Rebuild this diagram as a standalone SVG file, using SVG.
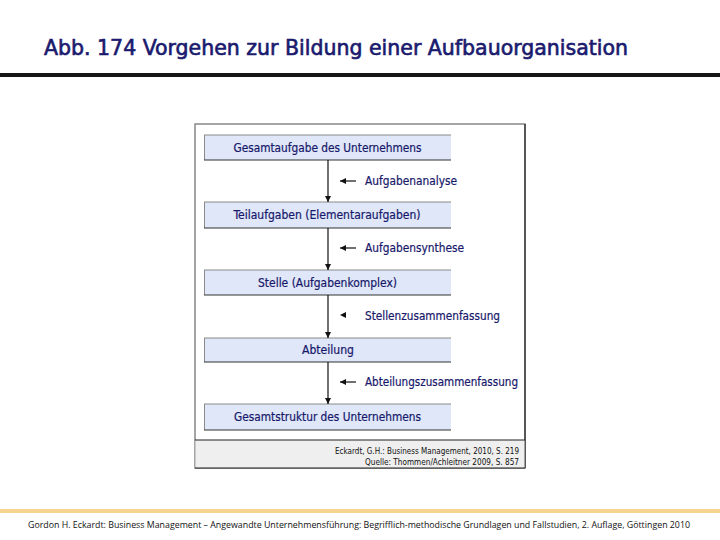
<svg xmlns="http://www.w3.org/2000/svg" width="720" height="540" viewBox="0 0 720 540">
<defs>
<style>
.box{fill:#dfe7f8;}
.btop{stroke:#8a8a8a;stroke-width:1;}
.bbot{stroke:#333;stroke-width:1.2;}
.bt{font-family:"DejaVu Sans Condensed","DejaVu Sans",sans-serif;font-size:12px;fill:#17186a;text-anchor:middle;stroke:#17186a;stroke-width:0.2;}
.lt{font-family:"DejaVu Sans Condensed","DejaVu Sans",sans-serif;font-size:12px;fill:#17186a;stroke:#17186a;stroke-width:0.2;}
.conn{stroke:#111;stroke-width:1.2;fill:none;}
.src{font-family:"DejaVu Sans Condensed","DejaVu Sans",sans-serif;font-size:8.5px;fill:#111;text-anchor:end;}
</style>
<marker id="ah" viewBox="0 0 10 10" refX="10" refY="5" markerWidth="6" markerHeight="6" orient="auto" markerUnits="userSpaceOnUse">
<path d="M0,0 L10,5 L0,10 z" fill="#111"/>
</marker>
</defs>
<rect width="720" height="540" fill="#fff"/>
<g id="title">
<text x="44" y="55" font-family="DejaVu Sans Condensed, DejaVu Sans, sans-serif" font-size="21" fill="#1a1a6e" stroke="#1a1a6e" stroke-width="0.6" textLength="584" lengthAdjust="spacingAndGlyphs">Abb. 174 Vorgehen zur Bildung einer Aufbauorganisation</text>
<rect x="0" y="73" width="720" height="4" fill="#161616"/>
</g>
<g id="frame">
<rect x="195" y="124" width="330" height="344" fill="#fff" stroke="#888" stroke-width="1.5"/>
<line x1="525" y1="124" x2="525" y2="468" stroke="#222" stroke-width="1.2"/>
<rect x="195.5" y="440" width="329" height="28" fill="#efefef"/>
<line x1="195" y1="440" x2="525" y2="440" stroke="#222" stroke-width="1"/>
<line x1="195" y1="468" x2="525" y2="468" stroke="#222" stroke-width="1.2"/>
</g>
<g id="n1">
<rect class="box" x="204" y="135" width="247" height="25"/>
<line class="btop" x1="204" y1="135" x2="451" y2="135"/>
<line class="btop" x1="204.5" y1="135" x2="204.5" y2="160"/>
<line class="bbot" x1="204" y1="160" x2="451" y2="160"/>
<text class="bt" x="327.5" y="152" textLength="188" lengthAdjust="spacingAndGlyphs">Gesamtaufgabe des Unternehmens</text>
</g>
<g id="n2">
<rect class="box" x="204" y="202" width="247" height="26"/>
<line class="btop" x1="204" y1="202" x2="451" y2="202"/>
<line class="btop" x1="204.5" y1="202" x2="204.5" y2="228"/>
<line class="bbot" x1="204" y1="228" x2="451" y2="228"/>
<text class="bt" x="327" y="219" textLength="187" lengthAdjust="spacingAndGlyphs">Teilaufgaben (Elementaraufgaben)</text>
</g>
<g id="n3">
<rect class="box" x="204" y="270" width="247" height="25"/>
<line class="btop" x1="204" y1="270" x2="451" y2="270"/>
<line class="btop" x1="204.5" y1="270" x2="204.5" y2="295"/>
<line class="bbot" x1="204" y1="295" x2="451" y2="295"/>
<text class="bt" x="327.5" y="287" textLength="139" lengthAdjust="spacingAndGlyphs">Stelle (Aufgabenkomplex)</text>
</g>
<g id="n4">
<rect class="box" x="204" y="338" width="247" height="24"/>
<line class="btop" x1="204" y1="338" x2="451" y2="338"/>
<line class="btop" x1="204.5" y1="338" x2="204.5" y2="362"/>
<line class="bbot" x1="204" y1="362" x2="451" y2="362"/>
<text class="bt" x="328" y="354" textLength="52" lengthAdjust="spacingAndGlyphs">Abteilung</text>
</g>
<g id="n5">
<rect class="box" x="204" y="404" width="247" height="26"/>
<line class="btop" x1="204" y1="404" x2="451" y2="404"/>
<line class="btop" x1="204.5" y1="404" x2="204.5" y2="430"/>
<line class="bbot" x1="204" y1="430" x2="451" y2="430"/>
<text class="bt" x="327.5" y="421" textLength="187" lengthAdjust="spacingAndGlyphs">Gesamtstruktur des Unternehmens</text>
</g>
<g id="connectors">
<line class="conn" x1="328" y1="160" x2="328" y2="202" marker-end="url(#ah)"/>
<line class="conn" x1="328" y1="228" x2="328" y2="270" marker-end="url(#ah)"/>
<line class="conn" x1="328" y1="295" x2="328" y2="338" marker-end="url(#ah)"/>
<line class="conn" x1="328" y1="362" x2="328" y2="404" marker-end="url(#ah)"/>
<line class="conn" x1="356" y1="181" x2="340" y2="181" marker-end="url(#ah)"/>
<line class="conn" x1="356" y1="248" x2="340" y2="248" marker-end="url(#ah)"/>
<path d="M340,315 L346,312 L346,318 z" fill="#111"/>
<line class="conn" x1="356" y1="382" x2="340" y2="382" marker-end="url(#ah)"/>
<text class="lt" x="365" y="185" textLength="92" lengthAdjust="spacingAndGlyphs">Aufgabenanalyse</text>
<text class="lt" x="365" y="252" textLength="99" lengthAdjust="spacingAndGlyphs">Aufgabensynthese</text>
<text class="lt" x="365" y="320" textLength="135" lengthAdjust="spacingAndGlyphs">Stellenzusammenfassung</text>
<text class="lt" x="365" y="386" textLength="153" lengthAdjust="spacingAndGlyphs">Abteilungszusammenfassung</text>
</g>
<g id="source">
<text class="src" x="519" y="454" textLength="184" lengthAdjust="spacingAndGlyphs">Eckardt, G.H.: Business Management, 2010, S. 219</text>
<text class="src" x="519" y="465" textLength="154" lengthAdjust="spacingAndGlyphs">Quelle: Thommen/Achleitner 2009, S. 857</text>
</g>
<g id="footer">
<rect x="0" y="509" width="720" height="4" fill="#f4d48e"/>
<text x="28" y="528" font-family="Open Sans, Liberation Sans, sans-serif" font-size="8.5" fill="#111" textLength="662" lengthAdjust="spacingAndGlyphs">Gordon H. Eckardt: Business Management – Angewandte Unternehmensführung: Begrifflich-methodische Grundlagen und Fallstudien, 2. Auflage, Göttingen 2010</text>
</g>
</svg>
